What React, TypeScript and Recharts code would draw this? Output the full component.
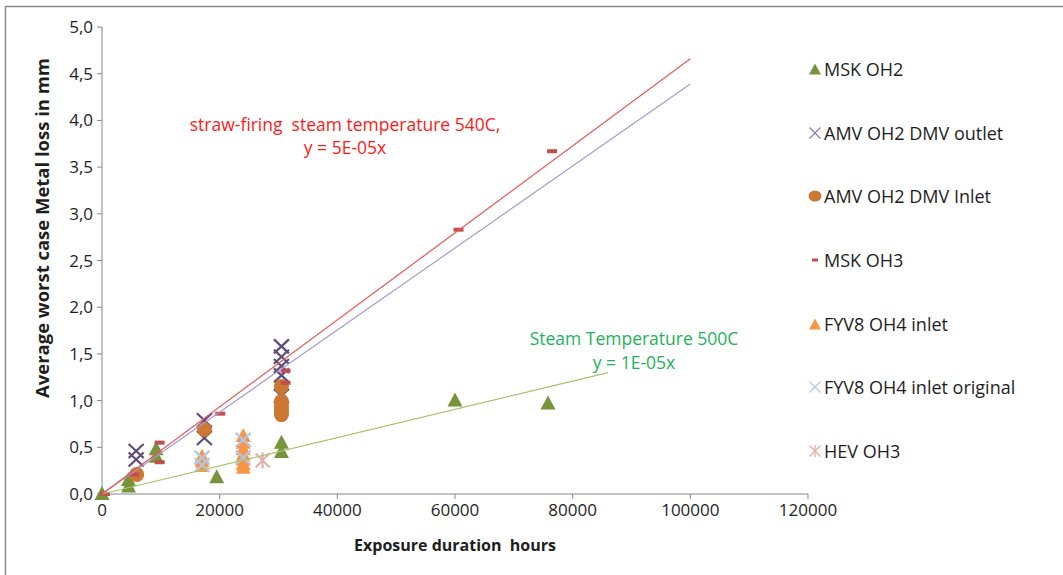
import { ScatterChart, Scatter, XAxis, YAxis, Legend } from "recharts";

// axis ticks
const xTicks = [0, 20000, 40000, 60000, 80000, 100000, 120000];
const yTicks = [0, 0.5, 1, 1.5, 2, 2.5, 3, 3.5, 4, 4.5, 5];

// [exposure hours, metal loss mm]
const mskOh2 = [
  [0, 0], [4500, 0.08], [4500, 0.15], [9200, 0.4], [9200, 0.48],
  [19500, 0.18], [30500, 0.45], [30500, 0.55], [60000, 1.0], [75800, 0.97],
];
const amvOutlet = [
  [5800, 0.46], [5800, 0.37], [17400, 0.79], [17400, 0.6],
  [30500, 1.58], [30500, 1.47], [30500, 1.37], [30500, 1.27], [30500, 1.05],
];
const amvInlet = [
  [5900, 0.21], [17400, 0.69], [30500, 1.15], [30500, 0.99],
  [30500, 0.95], [30500, 0.91], [30500, 0.88], [30500, 0.85],
];
const mskOh3 = [
  [500, 0], [5500, 0.21], [9800, 0.55], [9800, 0.34], [20100, 0.86],
  [31200, 1.32], [31200, 1.19], [60600, 2.83], [76500, 3.67],
];
const fyvInlet = [
  [17000, 0.4], [17000, 0.35], [17000, 0.3],
  [24000, 0.62], [24000, 0.55], [24000, 0.48], [24000, 0.42],
  [24000, 0.37], [24000, 0.32], [24000, 0.28],
];
const fyvOriginal = [[17000, 0.39], [17000, 0.31], [24000, 0.58], [24000, 0.39]];
const hevOh3 = [[27300, 0.36]];

// linear trendlines (end points)
const trend540 = [[0, 0], [100000, 4.66]];
const trendOutlet = [[0, 0], [100000, 4.39]];
const trend500 = [[0, 0], [86000, 1.3]];

const toPoints = (arr: number[][]) => arr.map(([x, y]) => ({ x, y }));

const FONT = "'Open Sans', 'Noto Sans', sans-serif";
const TEXT = "#1e1e1e";

const C = {
  green: "#77933C",
  purple: "#604A7B",
  orange: "#CC7832",
  red: "#C0504D",
  lightOrange: "#F79646",
  lightBlue: "#B3C6E3",
  pink: "#E0AAA9",
};

const Triangle = (color: string) => (p: any) => (
  <path
    d={`M${p.cx},${p.cy - 8} L${p.cx + 7.5},${p.cy + 6} L${p.cx - 7.5},${p.cy + 6} Z`}
    fill={color}
  />
);

const Cross = (color: string, w = 2.2) => (p: any) => (
  <g stroke={color} strokeWidth={w}>
    <line x1={p.cx - 7.5} y1={p.cy - 7} x2={p.cx + 7.5} y2={p.cy + 7} />
    <line x1={p.cx - 7.5} y1={p.cy + 7} x2={p.cx + 7.5} y2={p.cy - 7} />
  </g>
);

const Dot = (color: string) => (p: any) => (
  <circle cx={p.cx} cy={p.cy} r={7.5} fill={color} />
);

const Dash = (color: string) => (p: any) => (
  <rect x={p.cx - 5} y={p.cy - 2} width={10} height={4} fill={color} />
);

const Star = (color: string) => (p: any) => (
  <g stroke={color} strokeWidth={2}>
    <line x1={p.cx - 7} y1={p.cy - 7} x2={p.cx + 7} y2={p.cy + 7} />
    <line x1={p.cx - 7} y1={p.cy + 7} x2={p.cx + 7} y2={p.cy - 7} />
    <line x1={p.cx} y1={p.cy - 8} x2={p.cx} y2={p.cy + 8} />
  </g>
);

const NoShape = () => <g />;

const legendItems = [
  { name: "MSK OH2", icon: "tri", color: C.green },
  { name: "AMV OH2 DMV outlet", icon: "x", color: "#8E7FB0" },
  { name: "AMV OH2 DMV Inlet", icon: "dot", color: C.orange },
  { name: "MSK OH3", icon: "dash", color: C.red },
  { name: "FYV8 OH4 inlet", icon: "tri", color: C.lightOrange },
  { name: "FYV8 OH4 inlet original", icon: "x", color: C.lightBlue },
  { name: "HEV OH3", icon: "star", color: C.pink },
];

const LegendIcon = ({ icon, color }: { icon: string; color: string }) => (
  <svg width={14} height={14} style={{ marginRight: 2 }}>
    {icon === "tri" && <path d="M7,1.5 L13,12.5 L1,12.5 Z" fill={color} />}
    {icon === "x" && (
      <g stroke={color} strokeWidth={1.2}>
        <line x1={1.5} y1={1.5} x2={12.5} y2={12.5} />
        <line x1={1.5} y1={12.5} x2={12.5} y2={1.5} />
      </g>
    )}
    {icon === "dot" && <ellipse cx={7} cy={7} rx={6.5} ry={5.5} fill={color} />}
    {icon === "dash" && <rect x={4} y={5.5} width={6} height={3} fill={color} />}
    {icon === "star" && (
      <g stroke={color} strokeWidth={1.2}>
        <line x1={1.5} y1={1.5} x2={12.5} y2={12.5} />
        <line x1={1.5} y1={12.5} x2={12.5} y2={1.5} />
        <line x1={7} y1={1} x2={7} y2={13} />
      </g>
    )}
  </svg>
);

const LegendContent = () => (
  <div style={{ fontFamily: FONT, fontSize: 18, color: TEXT }}>
    {legendItems.map((item) => (
      <div
        key={item.name}
        style={{ height: 63.7, display: "flex", alignItems: "center", whiteSpace: "nowrap" }}
      >
        <LegendIcon icon={item.icon} color={item.color} />
        <span>{item.name}</span>
      </div>
    ))}
  </div>
);

const fmtY = (v: number) => v.toFixed(1).replace(".", ",");

export default function App() {
  const tick = { fontFamily: FONT, fontSize: 17, fill: TEXT };
  return (
    <div style={{ position: "absolute", left: 0, top: 0, width: 1063, height: 575, background: "#fff" }}>
      <ScatterChart
        width={1063}
        height={575}
        margin={{ top: 27, right: 255, bottom: 51, left: 40 }}
      >
        <XAxis
          type="number"
          dataKey="x"
          domain={[0, 120000]}
          ticks={xTicks}
          tick={tick}
          tickSize={5}
          tickMargin={5}
          height={30}
          stroke="#868686"
          interval={0}
        />
        <YAxis
          type="number"
          dataKey="y"
          domain={[0, 5]}
          ticks={yTicks}
          tickFormatter={fmtY}
          tick={tick}
          tickSize={5}
          tickMargin={4}
          width={62}
          stroke="#868686"
          interval={0}
        />
        <Legend
          layout="vertical"
          align="center"
          verticalAlign="middle"
          wrapperStyle={{ left: 808, top: 37, width: 250 }}
          content={() => <LegendContent />}
        />
        <Scatter data={toPoints(mskOh2)} shape={Triangle(C.green)} isAnimationActive={false} />
        <Scatter data={toPoints(amvOutlet)} shape={Cross(C.purple)} isAnimationActive={false} />
        <Scatter data={toPoints(amvInlet)} shape={Dot(C.orange)} isAnimationActive={false} />
        <Scatter data={toPoints(mskOh3)} shape={Dash(C.red)} isAnimationActive={false} />
        <Scatter data={toPoints(fyvInlet)} shape={Triangle(C.lightOrange)} isAnimationActive={false} />
        <Scatter data={toPoints(fyvOriginal)} shape={Cross(C.lightBlue)} isAnimationActive={false} />
        <Scatter data={toPoints(hevOh3)} shape={Star(C.pink)} isAnimationActive={false} />
        <Scatter
          data={toPoints(trend500)}
          line={{ stroke: "#A8C46E", strokeWidth: 1.2 }}
          shape={NoShape}
          legendType="none"
          isAnimationActive={false}
        />
        <Scatter
          data={toPoints(trendOutlet)}
          line={{ stroke: "#A99BCB", strokeWidth: 1.2 }}
          shape={NoShape}
          legendType="none"
          isAnimationActive={false}
        />
        <Scatter
          data={toPoints(trend540)}
          line={{ stroke: "#E8585A", strokeWidth: 1.2 }}
          shape={NoShape}
          legendType="none"
          isAnimationActive={false}
        />
      </ScatterChart>
      <svg
        width={1063}
        height={575}
        style={{ position: "absolute", left: 0, top: 0, pointerEvents: "none" }}
        fontFamily={FONT}
      >
        <path d="M5.5,575 L5.5,6.5 L1063,6.5" fill="none" stroke="#8c8c8c" strokeWidth={1.5} />
        <text x={345} y={124} textAnchor="middle" dominantBaseline="central" fontSize={17.5} fill="#FF1A1A">
          {"straw-firing\u00A0 steam temperature 540C,"}
        </text>
        <text x={345} y={147} textAnchor="middle" dominantBaseline="central" fontSize={17.5} fill="#FF1A1A">
          y = 5E-05x
        </text>
        <text x={634} y={338} textAnchor="middle" dominantBaseline="central" fontSize={17.5} fill="#1DB35A">
          Steam Temperature 500C
        </text>
        <text x={634} y={362} textAnchor="middle" dominantBaseline="central" fontSize={17.5} fill="#1DB35A">
          y = 1E-05x
        </text>
        <text
          x={42}
          y={228}
          transform="rotate(-90 42 228)"
          textAnchor="middle"
          dominantBaseline="central"
          fontSize={17}
          fontWeight="bold"
          fill={TEXT}
          textLength={340}
          lengthAdjust="spacingAndGlyphs"
        >
          Average worst case Metal loss in mm
        </text>
        <text x={455} y={545} textAnchor="middle" dominantBaseline="central" fontSize={16} fontWeight="bold" fill={TEXT}>
          {"Exposure duration\u00A0 hours"}
        </text>
      </svg>
    </div>
  );
}
